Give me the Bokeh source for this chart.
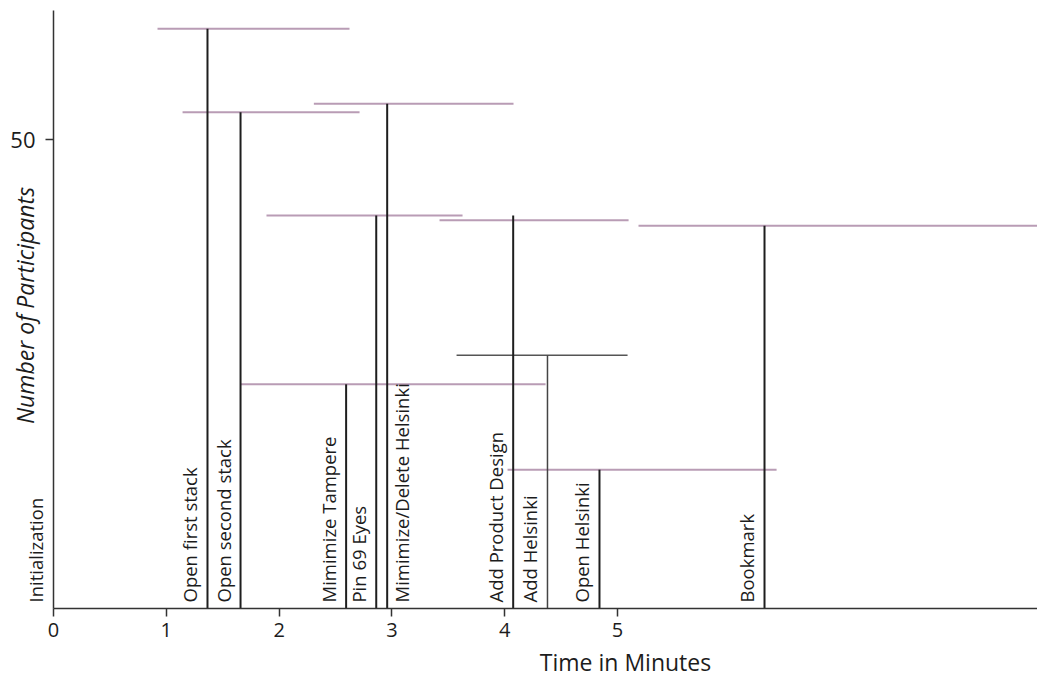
import math
from bokeh.plotting import figure
from bokeh.models import ColumnDataSource, FixedTicker, LabelSet, Label, Range1d
from bokeh.core.properties import value
from bokeh.embed import file_html
from bokeh.resources import INLINE

# ---- data ----
events = ["Initialization", "Open first stack", "Open second stack", "Mimimize Tampere",
          "Pin 69 Eyes", "Mimimize/Delete Helsinki", "Add Product Design", "Add Helsinki",
          "Open Helsinki", "Bookmark"]
times = [0.0, 1.365, 1.658, 2.594, 2.861, 2.958, 4.075, 4.379, 4.840, 6.303]
participants = [0, 61.8, 52.9, 23.9, 41.9, 53.8, 41.9, 27.0, 14.8, 40.8]
range_level = [0, 61.8, 52.9, 23.9, 41.9, 53.8, 41.4, 27.0, 14.8, 40.8]
range_start = [0.0, 0.922, 1.144, 1.658, 1.888, 2.308, 3.422, 3.573, 4.025, 5.186]
range_end = [0.0, 2.624, 2.713, 4.362, 3.626, 4.078, 5.098, 5.089, 6.410, 8.72]
x_ticks = [0, 1, 2, 3, 4, 5]
y_ticks = [50]
x_max = 8.723
y_max = 63.75

FONT = "Open Sans"
PURPLE = "#b99cb5"
DARK = "#1e1e1e"

p = figure(width=1037, height=678, output_backend="svg", toolbar_location=None,
           x_range=Range1d(-0.4699, 8.723), y_range=Range1d(-7.463, 64.82),
           min_border_left=0, min_border_right=0, min_border_top=0, min_border_bottom=0)
p.outline_line_color = None
p.xgrid.visible = False
p.ygrid.visible = False
p.background_fill_color = "white"
p.border_fill_color = "white"

# style: Add Helsinki range is drawn dark, others purple
main_idx = [i for i in range(len(events)) if participants[i] > 0 and events[i] != "Add Helsinki"]
alt_idx = [i for i in range(len(events)) if events[i] == "Add Helsinki"]

def sub(idx):
    return ColumnDataSource(dict(
        t=[times[i] for i in idx], n=[participants[i] for i in idx],
        lv=[range_level[i] for i in idx], s=[range_start[i] for i in idx],
        e=[range_end[i] for i in idx], zero=[0 for _ in idx]))

src_main = sub(main_idx)
src_alt = sub(alt_idx)

# horizontal ranges
p.segment(x0="s", y0="lv", x1="e", y1="lv", source=src_main, line_color=PURPLE, line_width=2)
p.segment(x0="s", y0="lv", x1="e", y1="lv", source=src_alt, line_color="#555555", line_width=1.5)
# vertical event lines
p.segment(x0="t", y0="zero", x1="t", y1="n", source=src_main, line_color=DARK, line_width=2)
p.segment(x0="t", y0="zero", x1="t", y1="n", source=src_alt, line_color="#444444", line_width=1.5)

# event labels: most sit left of their line, one sits right of it
right_side = ["Mimimize/Delete Helsinki"]
li = [i for i in range(len(events)) if events[i] not in right_side]
ri = [i for i in range(len(events)) if events[i] in right_side]
src_l = ColumnDataSource(dict(t=[times[i] for i in li], y=[0] * len(li), name=[events[i] for i in li]))
src_r = ColumnDataSource(dict(t=[times[i] for i in ri], y=[0] * len(ri), name=[events[i] for i in ri]))
common = dict(text_font=value(FONT), text_font_size="18.5px", text_color="#1c1c1c",
              angle=math.pi / 2, text_align="left", y_offset=6)
p.add_layout(LabelSet(x="t", y="y", text="name", source=src_l, text_baseline="bottom",
                      x_offset=-5, **common))
p.add_layout(LabelSet(x="t", y="y", text="name", source=src_r, text_baseline="top",
                      x_offset=2, **common))

# axes, pinned at the origin and bounded like the reference
p.xaxis.fixed_location = 0
p.yaxis.fixed_location = 0
p.xaxis.bounds = (0, x_max)
p.yaxis.bounds = (0, y_max)
p.xaxis.ticker = FixedTicker(ticks=x_ticks)
p.yaxis.ticker = FixedTicker(ticks=y_ticks)
for ax in (p.xaxis[0], p.yaxis[0]):
    ax.axis_line_color = "#333333"
    ax.axis_line_width = 1.5
    ax.major_tick_line_color = "#333333"
    ax.major_tick_line_width = 1.5
    ax.major_tick_out = 8
    ax.major_tick_in = 0
    ax.minor_tick_line_color = None
    ax.major_label_text_font = FONT
    ax.major_label_text_color = "#1c1c1c"
p.xaxis.major_label_text_font_size = "20px"
p.xaxis.major_label_standoff = 7
p.yaxis.major_label_text_font_size = "22px"
p.yaxis.major_label_standoff = 10

# axis titles
p.add_layout(Label(x=625, y=17, x_units="screen", y_units="screen", text="Time in Minutes",
                   text_align="center", text_baseline="middle", text_font=FONT,
                   text_font_size="23px", text_color="#1c1c1c"))
p.add_layout(Label(x=24, y=373, x_units="screen", y_units="screen", text="Number of Participants",
                   angle=math.pi / 2, text_align="center", text_baseline="middle",
                   text_font=FONT, text_font_style="italic",
                   text_font_size="23px", text_color="#1c1c1c"))

open("out.html", "w").write(file_html(p, INLINE))
